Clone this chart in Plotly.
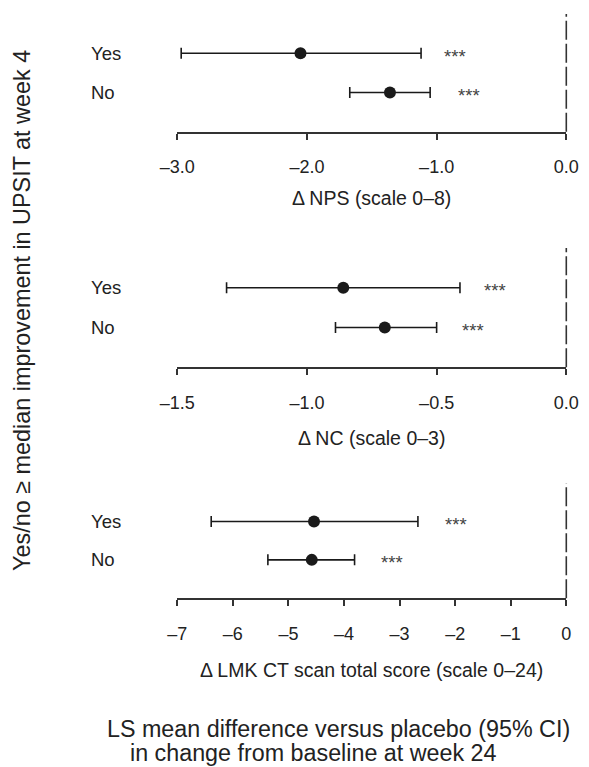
import plotly.graph_objects as go

# ---------------- data ----------------
categories = ["Yes", "No"]

nps_mean = [-2.05, -1.36]
nps_lo = [-2.97, -1.67]
nps_hi = [-1.12, -1.05]
nps_star_x = [-0.86, -0.75]

nc_mean = [-0.86, -0.70]
nc_lo = [-1.31, -0.89]
nc_hi = [-0.41, -0.50]
nc_star_x = [-0.275, -0.36]

lmk_mean = [-4.54, -4.58]
lmk_lo = [-6.39, -5.37]
lmk_hi = [-2.67, -3.81]
lmk_star_x = [-1.99, -3.13]

star_label = "***"

nps_ticks = [-3.0, -2.0, -1.0, 0.0]
nps_ticktext = ["–3.0", "–2.0", "–1.0", "0.0"]
nc_ticks = [-1.5, -1.0, -0.5, 0.0]
nc_ticktext = ["–1.5", "–1.0", "–0.5", "0.0"]
lmk_ticks = [-7, -6, -5, -4, -3, -2, -1, 0]
lmk_ticktext = ["–7", "–6", "–5", "–4", "–3", "–2", "–1", "0"]

titles = ["\u0394 NPS (scale 0–8)", "\u0394 NC (scale 0–3)",
          "\u0394 LMK CT scan total score (scale 0–24)"]
y_title = "Yes/no \u2265 median improvement in UPSIT at week 4"
bottom_line1 = "LS mean difference versus placebo (95% CI)"
bottom_line2 = "in change from baseline at week 24"

# ---------------- layout helpers ----------------
W, H = 589, 767
FONT = "Liberation Sans, Arial, sans-serif"
INK = "#222222"

def px_x(p):
    return p / W

def px_y(p):
    return 1 - p / H

x_dom = [px_x(177.3), px_x(566.3)]
panels = [
    dict(mean=nps_mean, lo=nps_lo, hi=nps_hi, star=nps_star_x, ticks=nps_ticks,
         ticktext=nps_ticktext, rng=[-3.0, 0.0], top=14, bottom=131.7, title_y=198),
    dict(mean=nc_mean, lo=nc_lo, hi=nc_hi, star=nc_star_x, ticks=nc_ticks,
         ticktext=nc_ticktext, rng=[-1.5, 0.0], top=248, bottom=367.3, title_y=438),
    dict(mean=lmk_mean, lo=lmk_lo, hi=lmk_hi, star=lmk_star_x, ticks=lmk_ticks,
         ticktext=lmk_ticktext, rng=[-7, 0], top=483, bottom=598.3, title_y=670),
]

row_y = [len(categories) - i for i in range(len(categories))]

fig = go.Figure()
annotations = []
shapes = []
layout_axes = {}

for i, p in enumerate(panels):
    n = i + 1
    xa = "x" if n == 1 else f"x{n}"
    ya = "y" if n == 1 else f"y{n}"
    xkey = "xaxis" if n == 1 else f"xaxis{n}"
    ykey = "yaxis" if n == 1 else f"yaxis{n}"

    plus = [h - m for h, m in zip(p["hi"], p["mean"])]
    minus = [m - l for m, l in zip(p["mean"], p["lo"])]

    fig.add_trace(go.Scatter(
        x=p["mean"], y=row_y, mode="markers",
        marker=dict(size=12, color="#1a1a1a"),
        error_x=dict(type="data", symmetric=False, array=plus, arrayminus=minus,
                     color="#1a1a1a", thickness=1.6, width=5.5),
        xaxis=xa, yaxis=ya, showlegend=False, cliponaxis=False,
    ))

    layout_axes[xkey] = dict(
        domain=x_dom, range=p["rng"], anchor=ya, automargin=False,
        showline=True, linecolor="#333333", linewidth=1.6,
        ticks="outside", ticklen=6, tickwidth=1.6, tickcolor="#333333",
        tickvals=p["ticks"], ticktext=p["ticktext"],
        tickfont=dict(family=FONT, size=18, color=INK),
        ticklabelstandoff=12,
        showgrid=False, zeroline=False, fixedrange=True,
    )
    layout_axes[ykey] = dict(
        domain=[px_y(p["bottom"]), px_y(p["top"])], range=[0, len(categories) + 1],
        anchor=xa, visible=False, fixedrange=True, automargin=False,
    )

    # dashed reference line at zero (right edge of the axis)
    shapes.append(dict(
        type="line", xref=f"{xa} domain", yref=f"{ya} domain",
        x0=1, x1=1, y0=0, y1=1,
        line=dict(color="#333333", width=1.6, dash="19px,4px"),
    ))

    # row labels
    for cat, yy in zip(categories, row_y):
        annotations.append(dict(
            text=cat, xref="paper", yref=ya, x=px_x(88.5), y=yy,
            xanchor="left", yanchor="middle", showarrow=False,
            font=dict(family=FONT, size=18.5, color=INK),
        ))
    # significance stars
    for sx, yy in zip(p["star"], row_y):
        annotations.append(dict(
            text=star_label, xref=xa, yref=ya, x=sx, y=yy,
            xanchor="center", yanchor="middle", showarrow=False, yshift=-3,
            font=dict(family=FONT, size=18.5, color="#444444"),
        ))
    # axis title
    annotations.append(dict(
        text=titles[i], xref=f"{xa} domain", yref="paper", x=0.5, y=px_y(p["title_y"]),
        xanchor="center", yanchor="middle", showarrow=False,
        font=dict(family=FONT, size=19.5, color=INK),
    ))

annotations.append(dict(
    text=y_title, xref="paper", yref="paper", x=px_x(22), y=px_y(311),
    xanchor="center", yanchor="middle", textangle=-90, showarrow=False,
    font=dict(family=FONT, size=23.4, color=INK),
))
annotations.append(dict(
    text=bottom_line1, xref="paper", yref="paper", x=px_x(105), y=px_y(729),
    xanchor="left", yanchor="middle", showarrow=False,
    font=dict(family=FONT, size=23.3, color=INK),
))
annotations.append(dict(
    text=bottom_line2, xref="paper", yref="paper", x=px_x(128), y=px_y(753),
    xanchor="left", yanchor="middle", showarrow=False,
    font=dict(family=FONT, size=23.3, color=INK),
))

fig.update_layout(
    template="none",
    width=W, height=H,
    margin=dict(l=0, r=0, t=0, b=0, pad=0, autoexpand=False),
    paper_bgcolor="white", plot_bgcolor="white",
    showlegend=False,
    annotations=annotations, shapes=shapes,
    **layout_axes,
)

fig.write_html("out.html", config={"displayModeBar": False})
